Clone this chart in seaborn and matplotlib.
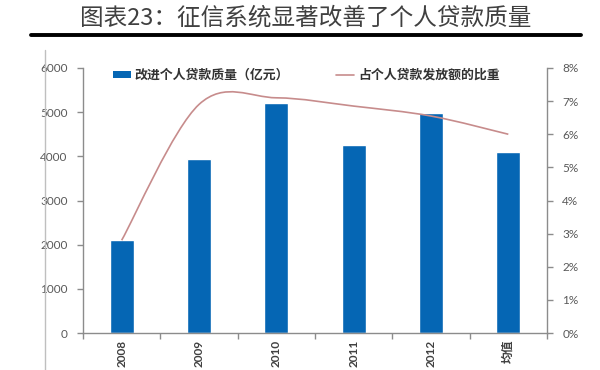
import matplotlib
matplotlib.use('Agg')
import matplotlib.pyplot as plt
from matplotlib.lines import Line2D
from matplotlib.patches import Patch, PathPatch
from matplotlib.path import Path
from matplotlib.ticker import FuncFormatter, FixedLocator
import pandas as pd
import seaborn as sns

# Datos
categorias = ['2008', '2009', '2010', '2011', '2012', '均值']
calidad_prestamos = [2100, 3930, 5210, 4250, 4970, 4090]   # 亿元
proporcion = [2.8, 6.9, 7.1, 6.85, 6.55, 6.0]              # %

titulo = '图表23：征信系统显著改善了个人贷款质量'
etiqueta_barras = '改进个人贷款质量（亿元）'
etiqueta_linea = '占个人贷款发放额的比重'

AZUL = '#0566B4'
ROJO = '#C78C8C'
GRIS = '#8C8C8C'
TEXTO = '#595959'

sns.set_theme(style='white')
plt.rcParams['font.family'] = ['Lato', 'Noto Sans CJK SC', 'DejaVu Sans']

df = pd.DataFrame({'cat': categorias, 'valor': calidad_prestamos})

fig = plt.figure(figsize=(6, 3.7), dpi=100)
ax = fig.add_axes([83 / 600, 37 / 370, (547 - 83) / 600, (333 - 68) / 370])

sns.barplot(data=df, x='cat', y='valor', order=categorias, color=AZUL,
            saturation=1, width=0.31, ax=ax)
ax.set_xlim(-0.5, len(categorias) - 0.5)
ax.set_ylim(0, 6000)
ax.set_yticks(range(0, 6001, 1000))
ax.set_xlabel('')
ax.set_ylabel('')

# Eje secundario con linea suavizada (curva Bezier sobre los puntos)
ax2 = ax.twinx()
ax2.set_ylim(0, 8)
ax2.set_yticks(range(0, 9))
ax2.yaxis.set_major_formatter(FuncFormatter(lambda v, p: f'{v:.0f}%'))

pts = list(zip(range(len(proporcion)), proporcion))
verts = [pts[0]]
codes = [Path.MOVETO]
n = len(pts)
for i in range(n - 1):
    p0 = pts[max(i - 1, 0)]
    p1 = pts[i]
    p2 = pts[i + 1]
    p3 = pts[min(i + 2, n - 1)]
    c1 = (p1[0] + (p2[0] - p0[0]) / 6, p1[1] + (p2[1] - p0[1]) / 6)
    c2 = (p2[0] - (p3[0] - p1[0]) / 6, p2[1] - (p3[1] - p1[1]) / 6)
    verts += [c1, c2, p2]
    codes += [Path.CURVE4] * 3
ax2.add_patch(PathPatch(Path(verts, codes), facecolor='none', edgecolor=ROJO, lw=1.2))

# Ejes y marcas
for a in (ax, ax2):
    for s in a.spines.values():
        s.set_visible(False)
ax.spines['left'].set_visible(True)
ax.spines['bottom'].set_visible(True)
ax2.spines['right'].set_visible(True)
for s in (ax.spines['left'], ax.spines['bottom'], ax2.spines['right']):
    s.set_color(GRIS)
    s.set_linewidth(1)

ax.tick_params(axis='y', left=True, length=4, width=1, color=GRIS, pad=7,
               labelsize=8.5, labelcolor=TEXTO)
ax2.tick_params(axis='y', right=True, length=4, width=1, color=GRIS, pad=7,
                labelsize=8.5, labelcolor=TEXTO)
ax.tick_params(axis='x', which='major', length=0, pad=5)
ax.xaxis.set_minor_locator(FixedLocator([i - 0.5 for i in range(len(categorias) + 1)]))
ax.tick_params(axis='x', which='minor', bottom=True, length=4, width=1, color=GRIS)
ax.set_xticks(range(len(categorias)))
ax.set_xticklabels(categorias, rotation=90, fontsize=8.5, fontweight='bold',
                   color='#404040', va='top')
ax.grid(False)
ax2.grid(False)

# Leyenda
handles = [Patch(facecolor=AZUL, edgecolor='none'),
           Line2D([], [], color=ROJO, lw=1.2)]
fig.legend(handles, [etiqueta_barras, etiqueta_linea], loc='center left',
           bbox_to_anchor=(113 / 600, 1 - 75 / 370), ncol=2, frameon=False,
           borderpad=0, borderaxespad=0, handlelength=1.4, handleheight=0.45,
           handletextpad=0.3, columnspacing=3.6,
           prop={'family': ['Noto Sans CJK SC'], 'weight': 'bold', 'size': 9.3},
           labelcolor='#333333')

# Titulo y lineas decorativas
fig.text(306 / 600, 1 - 18 / 370, titulo, ha='center', va='center',
         fontsize=17, color='#404040',
         family=['Noto Sans CJK SC', 'DejaVu Sans'], fontweight='light')
fig.add_artist(Line2D([31 / 600, 581 / 600], [1 - 35 / 370] * 2,
                      transform=fig.transFigure, color='black', lw=2.8))
fig.add_artist(Line2D([45 / 600, 45 / 600], [1 - 50 / 370, 0],
                      transform=fig.transFigure, color='#BFBFBF', lw=1))

fig.savefig('out.png', dpi=100)
